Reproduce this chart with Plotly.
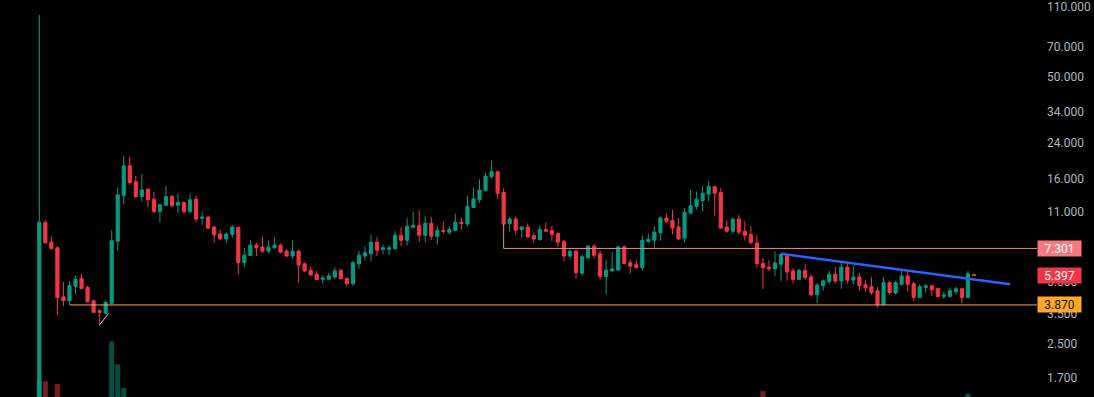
import math
import plotly.graph_objects as go

# ---- candle data (one row per session) ----
open_ = [1.25, 9.79, 7.83, 7.35, 4.24, 4.06, 4.76, 5.20, 4.71, 4.06,
         3.63, 3.53, 3.94, 7.92, 13.22, 18.46, 15.46, 13.08, 14.18, 12.70,
         11.07, 11.86, 13.08, 11.86, 12.23, 11.07, 12.70, 10.24, 10.39, 9.29,
         8.59, 8.12, 8.54, 9.26, 6.22, 6.74, 7.57, 7.41, 7.08, 7.35,
         7.57, 7.08, 6.70, 7.08, 6.15, 5.72, 5.46, 5.16, 5.16, 5.30,
         5.72, 5.22, 4.92, 6.15, 6.70, 6.87, 7.83, 7.22, 7.22, 7.27,
         8.47, 8.00, 9.26, 9.46, 8.47, 9.68, 8.37, 8.94, 8.76, 8.94,
         9.79, 9.60, 11.57, 12.60, 13.98, 16.35, 17.29, 13.68, 9.65, 10.16,
         9.02, 9.29, 8.44, 8.06, 9.02, 8.94, 8.63, 7.92, 6.70, 7.08,
         5.53, 6.57, 7.49, 6.87, 5.32, 5.67, 5.72, 7.43, 6.22, 6.08,
         5.88, 7.90, 8.00, 8.70, 10.27, 10.01, 9.29, 8.19, 10.86, 11.70,
         12.51, 13.42, 14.62, 13.68, 9.29, 8.86, 10.16, 8.86, 8.54, 7.77,
         6.17, 5.92, 5.80, 6.11, 6.77, 5.67, 5.16, 5.70, 5.30, 4.34,
         4.80, 5.03, 5.46, 5.07, 5.92, 5.11, 5.30, 4.85, 4.75, 4.54,
         3.88, 4.97, 4.42, 4.88, 5.36, 4.92, 4.21, 4.71, 4.80, 4.66,
         4.26, 4.26, 4.50, 4.64, 4.21, 5.45]
high = [100.6, 10.01, 8.37, 7.49, 5.01, 5.07, 5.36, 5.50, 4.80, 4.11,
        3.70, 4.05, 8.94, 14.51, 20.57, 20.43, 16.47, 16.85, 14.35, 13.79,
        12.05, 14.72, 13.32, 13.57, 12.33, 13.57, 13.18, 11.07, 10.47, 9.36,
        9.02, 8.76, 9.49, 9.29, 7.35, 8.00, 7.77, 8.37, 8.00, 8.28,
        7.71, 7.22, 8.00, 7.22, 6.22, 5.99, 5.67, 5.40, 5.56, 5.88,
        5.76, 5.26, 6.34, 7.08, 7.49, 8.54, 8.30, 7.63, 7.57, 8.86,
        9.26, 10.27, 11.07, 11.19, 10.47, 10.39, 9.36, 9.79, 9.36, 10.79,
        10.27, 13.18, 14.51, 15.86, 17.10, 19.54, 17.48, 14.35, 10.39, 10.44,
        9.36, 9.68, 8.70, 9.43, 9.79, 9.43, 8.76, 8.00, 7.22, 7.22,
        6.82, 7.57, 7.68, 7.13, 6.40, 7.00, 7.54, 7.57, 6.45, 6.45,
        8.44, 8.63, 9.36, 10.47, 10.86, 11.28, 10.27, 11.48, 14.08, 13.83,
        14.72, 15.51, 14.72, 14.35, 10.01, 10.27, 10.66, 9.90, 9.36, 8.44,
        6.57, 6.40, 7.08, 6.87, 6.87, 5.84, 5.80, 6.11, 5.46, 4.94,
        5.16, 5.70, 5.92, 6.29, 6.22, 5.99, 5.56, 5.11, 5.30, 4.75,
        5.30, 5.07, 5.07, 5.67, 5.70, 5.03, 4.88, 4.92, 4.85, 4.71,
        4.49, 4.71, 4.75, 4.65, 5.67, 5.50]
low = [1.20, 7.74, 7.24, 3.47, 3.81, 3.88, 4.39, 4.64, 3.98, 3.54,
       3.07, 3.50, 3.91, 7.13, 11.92, 14.89, 12.83, 12.37, 11.61, 10.86,
       9.79, 11.70, 11.57, 10.86, 10.74, 10.86, 9.79, 9.54, 9.08, 7.77,
       8.06, 7.77, 8.21, 5.46, 5.94, 6.70, 6.70, 6.95, 6.90, 7.30,
       6.90, 6.65, 6.50, 4.97, 5.61, 5.36, 5.11, 4.92, 5.13, 5.16,
       5.16, 4.78, 4.80, 5.81, 6.40, 6.34, 6.70, 6.82, 6.77, 7.22,
       7.49, 7.54, 9.15, 7.86, 7.86, 8.00, 7.63, 8.63, 8.54, 8.86,
       9.02, 9.36, 11.48, 12.14, 13.83, 15.93, 12.70, 9.36, 8.80, 8.54,
       8.21, 8.28, 7.77, 7.97, 8.82, 7.92, 7.43, 6.34, 6.45, 5.20,
       5.40, 6.50, 6.50, 5.16, 4.35, 5.64, 5.70, 6.11, 5.50, 5.84,
       5.70, 7.77, 7.35, 7.97, 9.72, 8.54, 8.00, 7.77, 10.66, 11.28,
       11.07, 12.37, 10.55, 9.08, 8.70, 8.63, 8.54, 7.97, 7.71, 5.88,
       4.64, 5.67, 5.36, 5.07, 5.07, 4.92, 5.15, 5.16, 4.29, 3.94,
       4.54, 4.88, 4.92, 4.64, 4.92, 4.88, 4.54, 4.50, 4.34, 3.77,
       3.86, 4.34, 4.35, 4.80, 4.49, 4.06, 4.20, 4.45, 4.29, 4.21,
       4.14, 4.21, 4.34, 3.94, 4.20, 5.36]
close = [9.79, 7.77, 7.27, 4.21, 4.06, 4.80, 5.16, 4.66, 4.01, 3.56,
         3.56, 3.98, 7.97, 13.32, 18.46, 15.29, 13.08, 14.08, 12.60, 11.07,
         11.92, 13.08, 11.82, 12.23, 11.07, 12.60, 10.16, 10.39, 9.18, 8.50,
         8.12, 8.59, 9.29, 6.22, 6.77, 7.57, 7.35, 7.08, 7.41, 7.57,
         7.00, 6.70, 7.08, 6.06, 5.67, 5.42, 5.14, 5.24, 5.36, 5.67,
         5.20, 4.92, 6.22, 6.77, 6.95, 7.83, 7.16, 7.35, 7.35, 8.47,
         8.00, 9.36, 9.46, 8.47, 9.68, 8.37, 8.94, 8.83, 9.02, 9.79,
         9.65, 11.70, 12.75, 14.08, 16.47, 17.29, 13.57, 9.60, 10.16, 8.97,
         9.29, 8.30, 8.12, 9.02, 8.86, 8.54, 7.83, 6.70, 7.08, 5.56,
         6.65, 7.49, 6.77, 5.32, 5.72, 5.81, 7.43, 6.15, 5.99, 5.88,
         8.00, 8.09, 8.76, 10.27, 9.90, 9.18, 8.12, 10.95, 11.79, 12.70,
         13.57, 14.62, 13.57, 9.18, 8.86, 10.16, 8.76, 8.47, 7.77, 6.16,
         5.88, 5.80, 6.20, 6.82, 5.61, 5.16, 5.70, 5.26, 4.34, 4.84,
         5.07, 5.46, 5.07, 5.92, 5.11, 5.30, 4.80, 4.69, 4.45, 3.88,
         4.97, 4.45, 4.97, 5.36, 4.88, 4.21, 4.75, 4.80, 4.59, 4.26,
         4.33, 4.54, 4.64, 4.21, 5.50, 5.397]
volume = [4.5, 4.0, 0, 3.3, 0, 0, 0, 0, 0, 0,
          0, 0, 14.1, 8.3, 2.3, 0, 0, 0, 0, 0,
          0, 0, 0, 0, 0, 0, 0, 0, 0, 0,
          0, 0, 0, 0, 0, 0, 0, 0, 0, 0,
          0, 0, 0, 0, 0, 0, 0, 0, 0, 0,
          0, 0, 0, 0, 0, 0, 0, 0, 0, 0,
          0, 0, 0, 0, 0, 0, 0, 0, 0, 0,
          0, 0, 0, 0, 0, 0, 0, 0, 0, 0,
          0, 0, 0, 0, 0, 0, 0, 0, 0, 0,
          0, 0, 0, 0, 0, 0, 0, 0, 0, 0,
          0, 0, 0, 0, 0, 0, 0, 0, 0, 0,
          0, 0, 0, 0, 0, 0, 0, 0, 0, 0,
          1.5, 0, 0, 0, 0, 0, 0, 0, 0, 0,
          0, 0, 0, 0, 0, 0, 0, 0, 0, 0,
          0, 0, 0, 0, 0, 0, 0, 0, 0, 0,
          0, 0, 0, 0, 0.8, 0]
idx = list(range(len(close)))

# ---- axis ticks ----
tick_vals = [1.7, 2.5, 3.5, 5.0, 11, 16, 24, 34, 50, 70, 110]
tick_text = ["1.700", "2.500", "3.500", "5.000", "11.000", "16.000",
             "24.000", "34.000", "50.000", "70.000", "110.000"]

# ---- drawings ----
support_level = 3.870
resistance_level = 7.301
last_price = 5.397
support_start = 5
resistance_start = 77
resistance_anchor = 9.60
trend_x = [123, 161]
trend_y = [6.87, 4.88]
stroke_x = [10.0, 11.5]
stroke_y = [3.10, 3.52]

x_range = [-6.52, 165.45]
y_range = [1.376, 115.0]

UP = "#089981"
DOWN = "#f23645"
UP_VOL = "rgba(8,153,129,0.5)"
DOWN_VOL = "rgba(242,54,69,0.5)"

vol_colors = [UP_VOL if c >= o else DOWN_VOL for o, c in zip(open_, close)]

fig = go.Figure()
fig.add_trace(go.Bar(x=idx, y=volume, marker_color=vol_colors, marker_line_width=0,
                     width=0.85, yaxis="y2", hoverinfo="skip"))
fig.add_trace(go.Candlestick(
    x=idx, open=open_, high=high, low=low, close=close,
    increasing=dict(line=dict(color=UP, width=1), fillcolor=UP),
    decreasing=dict(line=dict(color=DOWN, width=1), fillcolor=DOWN),
    whiskerwidth=0,
))
# support line
fig.add_trace(go.Scatter(x=[support_start, x_range[1]], y=[support_level, support_level],
                         mode="lines", line=dict(color="#f2a766", width=1), hoverinfo="skip"))
# resistance line with vertical anchor
fig.add_trace(go.Scatter(x=[resistance_start, resistance_start, x_range[1]],
                         y=[resistance_anchor, resistance_level, resistance_level],
                         mode="lines", line=dict(color="#f28b82", width=1), hoverinfo="skip"))
# trend line
fig.add_trace(go.Scatter(x=trend_x, y=trend_y, mode="lines",
                         line=dict(color="#2962ff", width=2.5), hoverinfo="skip"))
# small stroke
fig.add_trace(go.Scatter(x=stroke_x, y=stroke_y, mode="lines",
                         line=dict(color="#d0d0d0", width=1), hoverinfo="skip"))

labels = [
    (resistance_level, "#f7787f", "#ffffff"),
    (last_price, DOWN, "#ffffff"),
    (support_level, "#ffa726", "#131722"),
]
for val, bg, fg in labels:
    fig.add_annotation(x=1, xref="paper", xanchor="left", y=math.log10(val), yref="y",
                       yanchor="middle", text=f"{val:.3f}", showarrow=False,
                       bgcolor=bg, font=dict(color=fg, size=12, family="Roboto"),
                       width=43, height=15, borderpad=0, align="center")

fig.update_layout(
    width=1094, height=397,
    margin=dict(l=0, r=57, t=0, b=0),
    paper_bgcolor="#000000", plot_bgcolor="#000000",
    showlegend=False, boxgap=0.25,
    xaxis=dict(visible=False, range=x_range, rangeslider=dict(visible=False), fixedrange=True),
    yaxis=dict(type="log", range=[math.log10(y_range[0]), math.log10(y_range[1])],
               side="right", tickvals=tick_vals, ticktext=tick_text, showgrid=False,
               zeroline=False, showline=False, ticks="", ticklabelstandoff=9,
               ticklabeloverflow="allow",
               tickfont=dict(color="#b2b5be", size=12, family="Roboto"), fixedrange=True),
    yaxis2=dict(overlaying="y", range=[0, 100], visible=False, fixedrange=True),
)

fig.write_html("out.html")
